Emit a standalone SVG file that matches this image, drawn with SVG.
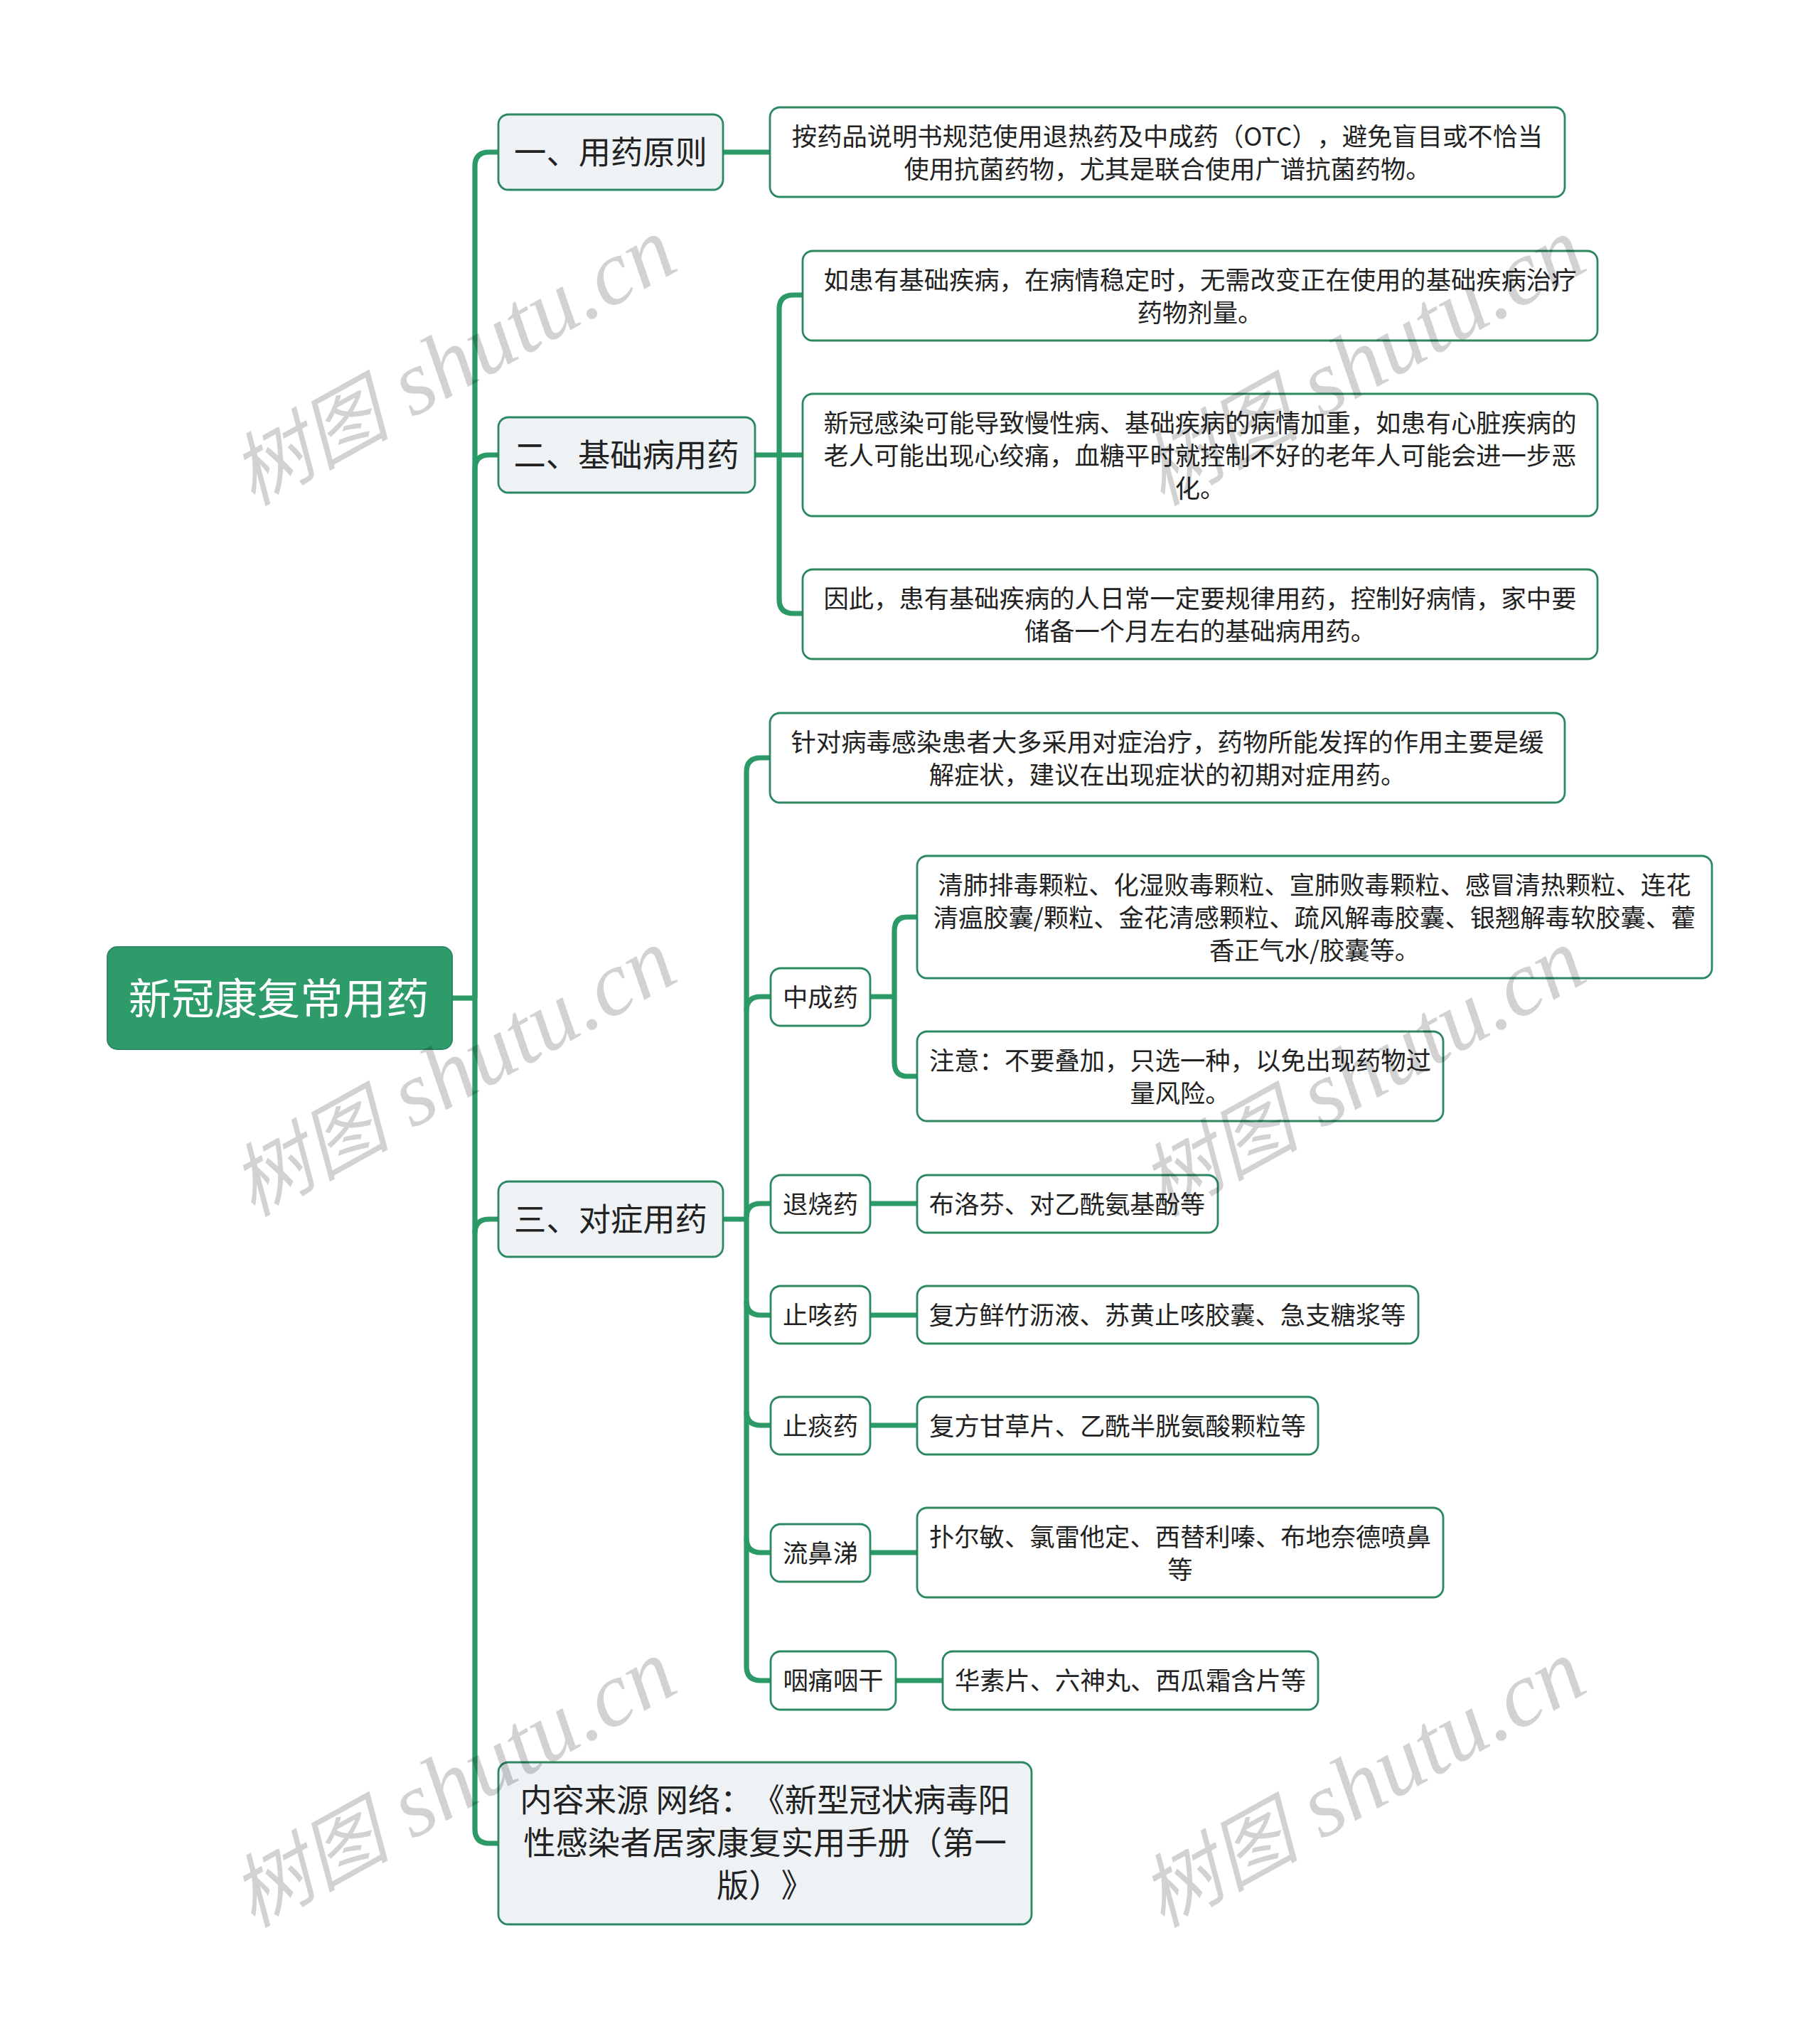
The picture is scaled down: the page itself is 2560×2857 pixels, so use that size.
<svg xmlns="http://www.w3.org/2000/svg" width="2560" height="2857" viewBox="0 0 2560 2857">
<style>
text{font-family:"Noto Sans CJK SC","Noto Sans",sans-serif;fill:#222;text-anchor:middle;text-spacing-trim:space-all}
.t0{font-size:60.4px;fill:#fff}.t1{font-size:45.3px}.t2{font-size:35.3px}
.n0{fill:#2e9c6a;stroke:#2b8860;stroke-width:2}.n1{fill:#eef2f5;stroke:#2b8860;stroke-width:2.8}.n2{fill:#fff;stroke:#2b8860;stroke-width:2.8}
#connectors path{fill:none;stroke:#2b9a66;stroke-width:7.2}
.wm{font-family:"Liberation Serif","Noto Sans CJK SC",serif;font-style:italic;font-size:129px;fill:#000;opacity:.173;text-anchor:middle}
.wc{font-family:"Noto Sans CJK SC",sans-serif;font-size:112px;fill:#000}
</style>
<rect width="2560" height="2857" fill="#fff"/>
<g id="connectors">
<path d="M636,1404H668"/>
<path d="M668,234Q668,214 688,214H701"/>
<path d="M668,1404V660Q668,640 688,640H701"/>
<path d="M668,234V2573Q668,2593 688,2593H701"/>
<path d="M668,1735Q668,1715 688,1715H701"/>
<path d="M1017,214H1083"/>
<path d="M1062,640H1129"/>
<path d="M1129,415H1116Q1096,415 1096,435V843Q1096,863 1116,863H1129"/>
<path d="M1017,1715H1050"/>
<path d="M1084,1066H1070Q1050,1066 1050,1086V2344Q1050,2364 1070,2364H1084"/>
<path d="M1050,1422Q1050,1402 1070,1402H1084"/>
<path d="M1050,1713Q1050,1693 1070,1693H1084"/>
<path d="M1050,1830Q1050,1850 1070,1850H1084"/>
<path d="M1050,1985Q1050,2005 1070,2005H1084"/>
<path d="M1050,2164Q1050,2184 1070,2184H1084"/>
<path d="M1224,1402H1258"/>
<path d="M1290,1290H1276Q1258,1290 1258,1310V1494Q1258,1514 1276,1514H1290"/>
<path d="M1224,1693H1290"/>
<path d="M1224,1850H1290"/>
<path d="M1224,2005H1290"/>
<path d="M1224,2184H1290"/>
<path d="M1260,2364H1326"/>
</g>
<g id="root"><rect class="n0" x="151" y="1332" width="485" height="144" rx="14"/><text class="t0" x="392" y="1427">新冠康复常用药</text></g>
<g id="n1"><rect class="n1" x="701" y="161" width="316" height="106" rx="14"/><text class="t1" x="859" y="231">一、用药原则</text></g>
<g id="n1-1"><rect class="n2" x="1083" y="151" width="1118" height="126" rx="14"/><text class="t2" x="1642" y="205">按药品说明书规范使用退热药及中成药（OTC），避免盲目或不恰当</text><text class="t2" x="1642" y="251">使用抗菌药物，尤其是联合使用广谱抗菌药物。</text></g>
<g id="n2"><rect class="n1" x="701" y="587" width="361" height="106" rx="14"/><text class="t1" x="881" y="657">二、基础病用药</text></g>
<g id="n2-1"><rect class="n2" x="1129" y="353" width="1118" height="126" rx="14"/><text class="t2" x="1688" y="407">如患有基础疾病，在病情稳定时，无需改变正在使用的基础疾病治疗</text><text class="t2" x="1688" y="453">药物剂量。</text></g>
<g id="n2-2"><rect class="n2" x="1129" y="554" width="1118" height="172" rx="14"/><text class="t2" x="1688" y="608">新冠感染可能导致慢性病、基础疾病的病情加重，如患有心脏疾病的</text><text class="t2" x="1688" y="654">老人可能出现心绞痛，血糖平时就控制不好的老年人可能会进一步恶</text><text class="t2" x="1688" y="700">化。</text></g>
<g id="n2-3"><rect class="n2" x="1129" y="801" width="1118" height="126" rx="14"/><text class="t2" x="1688" y="855">因此，患有基础疾病的人日常一定要规律用药，控制好病情，家中要</text><text class="t2" x="1688" y="901">储备一个月左右的基础病用药。</text></g>
<g id="n3"><rect class="n1" x="701" y="1662" width="316" height="106" rx="14"/><text class="t1" x="859" y="1732">三、对症用药</text></g>
<g id="n3-0"><rect class="n2" x="1083" y="1003" width="1118" height="126" rx="14"/><text class="t2" x="1642" y="1057">针对病毒感染患者大多采用对症治疗，药物所能发挥的作用主要是缓</text><text class="t2" x="1642" y="1103">解症状，建议在出现症状的初期对症用药。</text></g>
<g id="n3-1"><rect class="n2" x="1084" y="1362" width="140" height="81" rx="14"/><text class="t2" x="1154" y="1416">中成药</text></g>
<g id="n3-1-1"><rect class="n2" x="1290" y="1204" width="1118" height="172" rx="14"/><text class="t2" x="1849" y="1258">清肺排毒颗粒、化湿败毒颗粒、宣肺败毒颗粒、感冒清热颗粒、连花</text><text class="t2" x="1849" y="1304">清瘟胶囊/颗粒、金花清感颗粒、疏风解毒胶囊、银翘解毒软胶囊、藿</text><text class="t2" x="1849" y="1350">香正气水/胶囊等。</text></g>
<g id="n3-1-2"><rect class="n2" x="1290" y="1451" width="740" height="126" rx="14"/><text class="t2" x="1660" y="1505">注意：不要叠加，只选一种，以免出现药物过</text><text class="t2" x="1660" y="1551">量风险。</text></g>
<g id="n3-2"><rect class="n2" x="1084" y="1653" width="140" height="81" rx="14"/><text class="t2" x="1154" y="1707">退烧药</text></g>
<g id="n3-2-1"><rect class="n2" x="1290" y="1653" width="423" height="81" rx="14"/><text class="t2" x="1501" y="1707">布洛芬、对乙酰氨基酚等</text></g>
<g id="n3-3"><rect class="n2" x="1084" y="1809" width="140" height="81" rx="14"/><text class="t2" x="1154" y="1863">止咳药</text></g>
<g id="n3-3-1"><rect class="n2" x="1290" y="1809" width="705" height="81" rx="14"/><text class="t2" x="1642" y="1863">复方鲜竹沥液、苏黄止咳胶囊、急支糖浆等</text></g>
<g id="n3-4"><rect class="n2" x="1084" y="1965" width="140" height="81" rx="14"/><text class="t2" x="1154" y="2019">止痰药</text></g>
<g id="n3-4-1"><rect class="n2" x="1290" y="1965" width="564" height="81" rx="14"/><text class="t2" x="1572" y="2019">复方甘草片、乙酰半胱氨酸颗粒等</text></g>
<g id="n3-5"><rect class="n2" x="1084" y="2144" width="140" height="81" rx="14"/><text class="t2" x="1154" y="2198">流鼻涕</text></g>
<g id="n3-5-1"><rect class="n2" x="1290" y="2121" width="740" height="126" rx="14"/><text class="t2" x="1660" y="2175">扑尔敏、氯雷他定、西替利嗪、布地奈德喷鼻</text><text class="t2" x="1660" y="2221">等</text></g>
<g id="n3-6"><rect class="n2" x="1084" y="2323" width="176" height="82" rx="14"/><text class="t2" x="1172" y="2377">咽痛咽干</text></g>
<g id="n3-6-1"><rect class="n2" x="1326" y="2323" width="528" height="82" rx="14"/><text class="t2" x="1590" y="2377">华素片、六神丸、西瓜霜含片等</text></g>
<g id="n4"><rect class="n1" x="701" y="2479" width="750" height="228" rx="14"/><text class="t1" x="1076" y="2549">内容来源 网络：《新型冠状病毒阳</text><text class="t1" x="1076" y="2609">性感染者居家康复实用手册（第一</text><text class="t1" x="1076" y="2669">版）》</text></g>
<g id="watermarks">
<text class="wm" transform="translate(657,545) rotate(-29)"><tspan class="wc">树图</tspan> shutu.cn</text>
<text class="wm" transform="translate(1936,545) rotate(-29)"><tspan class="wc">树图</tspan> shutu.cn</text>
<text class="wm" transform="translate(657,1545) rotate(-29)"><tspan class="wc">树图</tspan> shutu.cn</text>
<text class="wm" transform="translate(1936,1545) rotate(-29)"><tspan class="wc">树图</tspan> shutu.cn</text>
<text class="wm" transform="translate(657,2545) rotate(-29)"><tspan class="wc">树图</tspan> shutu.cn</text>
<text class="wm" transform="translate(1936,2545) rotate(-29)"><tspan class="wc">树图</tspan> shutu.cn</text>
</g>
</svg>
